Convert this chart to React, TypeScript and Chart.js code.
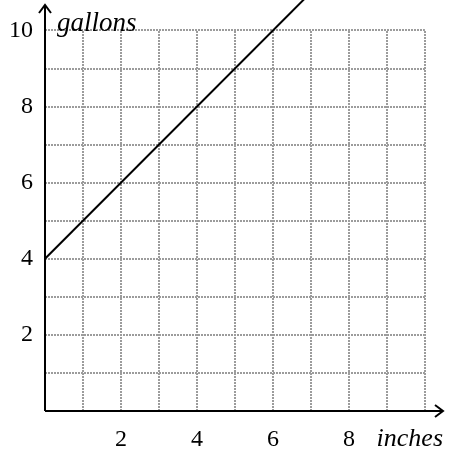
import React, { useEffect, useRef } from "react";
import { Chart, registerables } from "chart.js";

Chart.register(...registerables);

const lineX = [0, 6.9];
const lineY = [4, 10.9];
const xTickValues = [2, 4, 6, 8];
const yTickValues = [2, 4, 6, 8, 10];
const gridValues = [1, 2, 3, 4, 5, 6, 7, 8, 9, 10];
const xTitle = "inches";
const yTitle = "gallons";

const FONT = '"Liberation Serif", "Times New Roman", serif';

const gridAxesPlugin = {
  id: "gridAxes",
  beforeDatasetsDraw(chart: any) {
    const { ctx } = chart;
    const xs = chart.scales.x;
    const ys = chart.scales.y;
    const x0 = xs.getPixelForValue(0);
    const x10 = xs.getPixelForValue(10);
    const y0 = ys.getPixelForValue(0);
    const y10 = ys.getPixelForValue(10);
    ctx.save();
    ctx.strokeStyle = "#9c9c9c";
    ctx.lineWidth = 2;
    ctx.setLineDash([2, 1]);
    gridValues.forEach((v) => {
      const px = Math.round(xs.getPixelForValue(v));
      ctx.beginPath();
      ctx.moveTo(px, y0);
      ctx.lineTo(px, y10);
      ctx.stroke();
      const py = Math.round(ys.getPixelForValue(v));
      ctx.beginPath();
      ctx.moveTo(x0, py);
      ctx.lineTo(x10, py);
      ctx.stroke();
    });
    ctx.restore();
  },
  afterDatasetsDraw(chart: any) {
    const { ctx } = chart;
    const xs = chart.scales.x;
    const ys = chart.scales.y;
    const x0 = xs.getPixelForValue(0);
    const y0 = ys.getPixelForValue(0);
    const topY = 5;
    const rightX = 443;
    ctx.save();
    ctx.strokeStyle = "#000";
    ctx.lineWidth = 2;
    ctx.setLineDash([]);
    ctx.beginPath();
    ctx.moveTo(x0, y0);
    ctx.lineTo(x0, topY);
    ctx.moveTo(x0 - 6, topY + 8);
    ctx.lineTo(x0, topY);
    ctx.lineTo(x0 + 6, topY + 8);
    ctx.moveTo(x0, y0);
    ctx.lineTo(rightX, y0);
    ctx.moveTo(rightX - 8, y0 - 6);
    ctx.lineTo(rightX, y0);
    ctx.lineTo(rightX - 8, y0 + 6);
    ctx.stroke();
    ctx.fillStyle = "#000";
    ctx.font = `italic 27px ${FONT}`;
    ctx.textBaseline = "alphabetic";
    ctx.textAlign = "left";
    ctx.fillText(yTitle, x0 + 12, 31);
    ctx.font = `italic 26px ${FONT}`;
    ctx.textAlign = "right";
    ctx.fillText(xTitle, 443, 446);
    ctx.restore();
  },
};

export default function App() {
  const ref = useRef<HTMLCanvasElement>(null);
  useEffect(() => {
    document.body.style.margin = "0";
    const chart = new Chart(ref.current!, {
      type: "scatter",
      data: {
        datasets: [
          {
            data: lineX.map((x, i) => ({ x, y: lineY[i] })),
            showLine: true,
            borderColor: "#000",
            borderWidth: 2,
            pointRadius: 0,
            clip: false as any,
          },
        ],
      },
      options: {
        animation: false,
        responsive: false,
        plugins: { legend: { display: false }, tooltip: { enabled: false } },
        layout: { padding: 0 },
        scales: {
          x: {
            type: "linear",
            min: 0,
            max: 10.66,
            grid: { display: false, drawTicks: false },
            border: { display: false },
            afterBuildTicks: (s: any) => {
              s.ticks = xTickValues.map((v) => ({ value: v }));
            },
            afterFit: (s: any) => {
              s.height = 43;
              s.paddingLeft = 0;
              s.paddingRight = 0;
            },
            ticks: {
              color: "#000",
              padding: 14,
              font: { family: FONT, size: 24 },
              maxRotation: 0,
              autoSkip: false,
            },
          },
          y: {
            type: "linear",
            min: 0,
            max: 10.8,
            grid: { display: false, drawTicks: false },
            border: { display: false },
            afterBuildTicks: (s: any) => {
              s.ticks = yTickValues.map((v) => ({ value: v }));
            },
            afterFit: (s: any) => {
              s.width = 45;
              s.paddingTop = 0;
              s.paddingBottom = 0;
            },
            ticks: {
              color: "#000",
              padding: 12,
              font: { family: FONT, size: 24 },
              autoSkip: false,
            },
          },
        },
      },
      plugins: [gridAxesPlugin],
    });
    return () => chart.destroy();
  }, []);
  return <canvas ref={ref} width={450} height={454} style={{ display: "block" }} />;
}
